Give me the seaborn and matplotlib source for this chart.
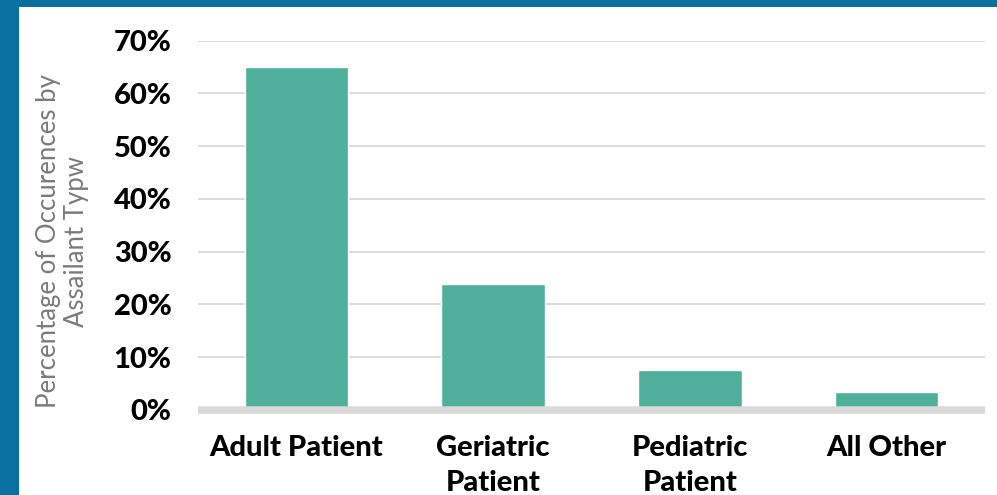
import matplotlib
matplotlib.use("Agg")
import matplotlib.pyplot as plt
from matplotlib.patches import Rectangle
from matplotlib.ticker import PercentFormatter, MultipleLocator
import pandas as pd
import seaborn as sns

# Assault occurrences by assailant type (percent of all occurrences)
categories = ["Adult Patient", "Geriatric\nPatient", "Pediatric\nPatient", "All Other"]
percentages = [65.0, 23.8, 7.6, 3.4]
y_label = "Percentage of Occurences by\nAssailant Typw"

df = pd.DataFrame({"category": categories, "pct": percentages})

sns.set_theme(style="white")
plt.rcParams["font.family"] = ["Lato", "DejaVu Sans"]

BLUE = "#0A6FA1"
TEAL = "#50AF9A"
GRID = "#D9D9D9"

fig = plt.figure(figsize=(9.97, 4.95), dpi=100, facecolor=BLUE)
# white panel inside the blue frame, kept behind the axes
fig.patches.append(Rectangle((19 / 997, 0), 1 - 19 / 997, (495 - 7) / 495,
                             transform=fig.transFigure, facecolor="white",
                             edgecolor="none", zorder=-10))

ax = fig.add_axes([198 / 997, (495 - 410) / 495, (985 - 198) / 997, (410 - 40.7) / 495])
ax.set_facecolor("none")
ax.set_zorder(1)

sns.barplot(data=df, x="category", y="pct", order=categories, color=TEAL,
            width=0.525, saturation=1, ax=ax, zorder=2)

ax.set_ylim(0, 70)
ax.set_xlim(-0.5, len(categories) - 0.5)
ax.yaxis.set_major_locator(MultipleLocator(10))
ax.yaxis.set_major_formatter(PercentFormatter(xmax=100, decimals=0))

for v in range(10, 80, 10):
    ax.axhline(v, color=GRID, lw=1.3, zorder=1)
ax.axhline(0, color=GRID, lw=5.4, zorder=3, clip_on=False, solid_capstyle="butt")

for s in ax.spines.values():
    s.set_visible(False)

ax.tick_params(axis="both", length=0)
ax.tick_params(axis="y", pad=19)
ax.tick_params(axis="x", pad=18)
for lbl in ax.get_yticklabels():
    lbl.set_fontsize(21)
    lbl.set_fontweight("black")
    lbl.set_color("black")
for lbl in ax.get_xticklabels():
    lbl.set_fontsize(21)
    lbl.set_fontweight("black")
    lbl.set_color("black")
    lbl.set_linespacing(1.45)
    lbl.set_verticalalignment("top")

ax.set_xlabel("")
ax.set_ylabel(y_label, fontsize=18.5, color="#7A7A7A", fontweight="normal",
              linespacing=1.15)
ax.yaxis.set_label_coords(-0.139, 0.457)

fig.savefig("out.png", dpi=100, facecolor=BLUE)
